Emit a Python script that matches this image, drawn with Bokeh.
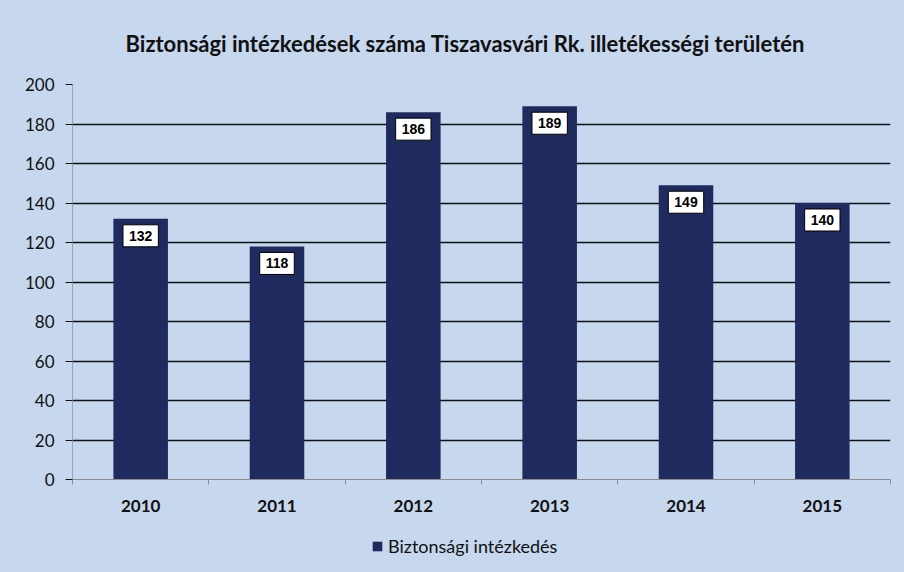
import numpy as np
from bokeh.plotting import figure
from bokeh.layouts import column
from bokeh.models import (ColumnDataSource, Label, Legend, LegendItem,
                          FixedTicker, Range1d)
from bokeh.embed import file_html
from bokeh.resources import INLINE

years = ["2010", "2011", "2012", "2013", "2014", "2015"]
values = [132, 118, 186, 189, 149, 140]
y_ticks = [0, 20, 40, 60, 80, 100, 120, 140, 160, 180, 200]
title_text = "Biztonsági intézkedések száma Tiszavasvári Rk. illetékességi területén"
series_name = "Biztonsági intézkedés"

BG = "#c6d7ee"
BAR = "#1f2a5e"

pos = np.arange(len(years)) + 0.5
source = ColumnDataSource(dict(x=pos, y=values))

p = figure(width=904, height=530, output_backend="svg", toolbar_location=None,
           x_range=Range1d(0, len(years)), y_range=Range1d(0, 200),
           min_border_left=72, min_border_right=14, min_border_top=84, min_border_bottom=51)
p.background_fill_color = None
p.border_fill_color = BG
p.outline_line_color = None

# title
p.title.text = title_text
p.title.align = "left"
p.title.text_font = "Lato"
p.title.text_font_style = "bold"
p.title.text_font_size = "22px"
p.title.text_color = "#111111"
p.title.offset = 53
p.title.standoff = 55

# grid
p.xgrid.grid_line_color = None
p.ygrid.ticker = FixedTicker(ticks=y_ticks[1:])
p.ygrid.grid_line_color = "#111111"
p.ygrid.grid_line_width = 1.6

r = p.vbar(x="x", top="y", width=0.4, source=source, fill_color=BAR, line_color=None)

# y axis
p.yaxis.ticker = FixedTicker(ticks=y_ticks)
p.yaxis.axis_line_color = "#9aa4b4"
p.yaxis.major_tick_line_color = "#111111"
p.yaxis.major_tick_out = 7
p.yaxis.major_tick_in = 0
p.yaxis.minor_tick_line_color = None
p.yaxis.major_label_standoff = 11
p.yaxis.major_label_text_font = "Lato"
p.yaxis.major_label_text_font_size = "17px"
p.yaxis.major_label_text_color = "#111111"

# x axis: labels at centres, small ticks at category boundaries
p.xaxis.ticker = FixedTicker(ticks=list(pos), minor_ticks=list(range(len(years) + 1)))
p.xaxis.major_label_overrides = {float(x): y for x, y in zip(pos, years)}
p.xaxis.axis_line_color = "#8c8c8c"
p.xaxis.axis_line_width = 1.2
p.xaxis.major_tick_line_color = None
p.xaxis.major_tick_out = 0
p.xaxis.major_tick_in = 0
p.xaxis.minor_tick_line_color = "#8c8c8c"
p.xaxis.minor_tick_out = 5
p.xaxis.minor_tick_in = 0
p.xaxis.major_label_standoff = 15
p.xaxis.major_label_text_font = "Lato"
p.xaxis.major_label_text_font_style = "bold"
p.xaxis.major_label_text_font_size = "17px"
p.xaxis.major_label_text_color = "#111111"

# data labels
for xv, v in zip(pos, values):
    p.add_layout(Label(x=float(xv), y=v, text=str(v), y_offset=-17,
                       text_align="center", text_baseline="middle",
                       text_font="Liberation Sans", text_font_style="bold", text_font_size="14px",
                       text_color="#000000",
                       background_fill_color="white", border_line_color="#000000",
                       border_line_width=1, padding=6))

# legend strip (separate small figure below the chart)
lg = figure(width=904, height=42, output_backend="svg", toolbar_location=None,
            x_range=Range1d(0, 1), y_range=Range1d(0, 1),
            x_axis_location=None, y_axis_location=None, min_border=0)
lg.background_fill_color = None
lg.border_fill_color = BG
lg.outline_line_color = None
lg.grid.grid_line_color = None
r_leg = lg.vbar(x="x", top="y", width=0.4, source=source, fill_color=BAR,
                line_color=None, visible=False)
legend = Legend(items=[LegendItem(label=series_name, renderers=[r_leg])],
                location=(299, 15), orientation="horizontal",
                background_fill_alpha=0, border_line_color=None,
                inactive_fill_alpha=0, click_policy="none",
                glyph_width=12, glyph_height=12, label_text_font="Lato",
                label_text_font_size="18px", label_text_color="#111111",
                padding=0, margin=0, label_standoff=5)
lg.add_layout(legend, "center")

layout = column(p, lg, spacing=0, styles={"background-color": BG})
open("out.html", "w").write(file_html(layout, INLINE))
